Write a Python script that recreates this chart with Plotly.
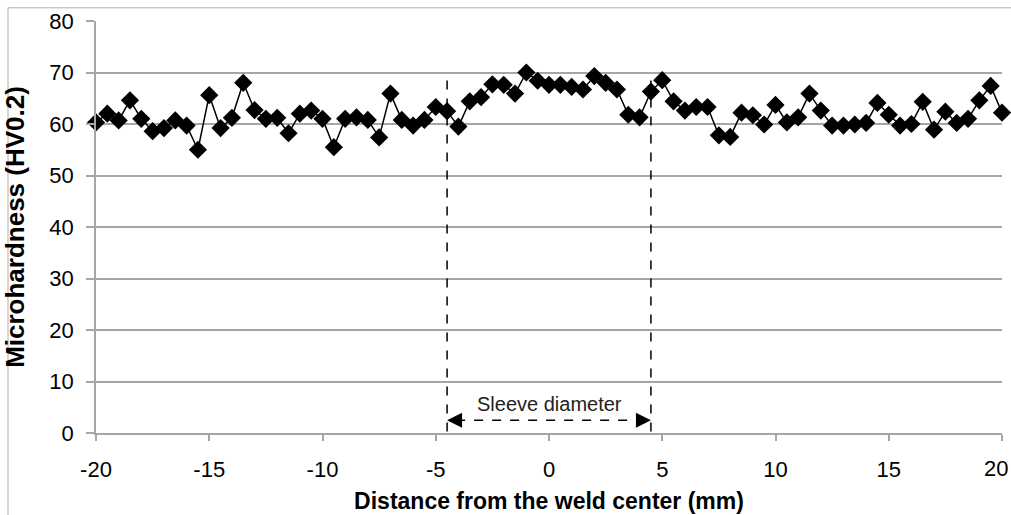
import plotly.graph_objects as go

# Distance from weld center (mm), 0.5 mm step
distance_mm = [x * 0.5 for x in range(-40, 41)]

hardness_hv = [
    60.3, 62.0, 60.7, 64.6, 61.0, 58.6, 59.2, 60.7, 59.7, 55.0,
    65.6, 59.2, 61.2, 68.0, 62.7, 61.0, 61.2, 58.2, 62.0, 62.6,
    61.0, 55.5, 61.0, 61.3, 60.8, 57.4, 65.9, 60.8, 59.7, 60.8,
    63.3, 62.5, 59.5, 64.4, 65.2, 67.7, 67.6, 65.9, 70.0, 68.4,
    67.6, 67.6, 67.2, 66.7, 69.3, 68.0, 66.7, 61.8, 61.3, 66.3,
    68.5, 64.4, 62.6, 63.3, 63.3, 57.8, 57.5, 62.2, 61.7, 59.9,
    63.7, 60.3, 61.3, 65.9, 62.6, 59.7, 59.7, 59.9, 60.2, 64.1,
    61.8, 59.7, 60.0, 64.3, 58.9, 62.4, 60.2, 61.0, 64.6, 67.4,
    62.2,
]

x_ticks = [-20, -15, -10, -5, 0, 5, 10, 15, 20]
y_ticks = [0, 10, 20, 30, 40, 50, 60, 70, 80]

sleeve_left = -4.5
sleeve_right = 4.5
sleeve_label = "Sleeve diameter"

FONT = "Liberation Sans, Arial, sans-serif"
GRID = "#a6a6a6"

fig = go.Figure()
fig.add_trace(go.Scatter(
    x=distance_mm, y=hardness_hv, mode="lines+markers",
    line=dict(color="black", width=1.5),
    marker=dict(symbol="diamond", size=14, color="black"),
    showlegend=False, cliponaxis=False,
))

# dashed sleeve boundaries
for xv in (sleeve_left, sleeve_right):
    fig.add_shape(type="line", x0=xv, x1=xv, y0=0.3, y1=70,
                  xref="x", yref="y", line=dict(color="black", width=1.5, dash="dash"))

# dashed double arrow
fig.add_shape(type="line", x0=sleeve_left + 0.4, x1=sleeve_right - 0.4, y0=2.5, y1=2.5,
              xref="x", yref="y", line=dict(color="black", width=1.5, dash="dash"))
for xv, ax in ((sleeve_left, 16), (sleeve_right, -16)):
    fig.add_annotation(x=xv, y=2.5, xref="x", yref="y", ax=ax, ay=0,
                       text="", showarrow=True, arrowhead=2, arrowsize=1.5,
                       arrowwidth=2, arrowcolor="black")
fig.add_annotation(x=0, y=5.6, xref="x", yref="y", text=sleeve_label, showarrow=False,
                   font=dict(family=FONT, size=20, color="#222222"))

# last x tick label (drawn explicitly so it is not dropped at the edge)
last_tick = x_ticks[-1]
fig.add_annotation(x=last_tick, y=0, xref="x", yref="paper", yanchor="top",
                   xanchor="right", xshift=8, yshift=-21,
                   text=str(last_tick), showarrow=False,
                   font=dict(family=FONT, size=22, color="black"))

# outer border of chart picture
fig.add_shape(type="rect", xref="paper", yref="paper",
              x0=(8 - 96) / 906, x1=(1030 - 96) / 906,
              y0=(432.7 - 530) / 412, y1=(432.7 - 7.5) / 412,
              line=dict(color="#b0b0b0", width=1), layer="below")

fig.update_layout(
    width=1011, height=515,
    margin=dict(l=96, r=9, t=21, b=82),
    plot_bgcolor="white", paper_bgcolor="white",
    font=dict(family=FONT, color="black"),
    xaxis=dict(
        range=[-20, 20], tickvals=x_ticks, ticktext=[str(v) for v in x_ticks],
        showgrid=False, zeroline=False, showline=True, linecolor=GRID, linewidth=1.5,
        ticks="outside", ticklen=6, tickcolor=GRID, tickwidth=1.5,
        ticklabelstandoff=10, automargin=False,
        tickfont=dict(size=22, family=FONT, color="black"),
        title=dict(text="<b>Distance from the weld center (mm)</b>",
                   font=dict(size=23, family=FONT, color="black"), standoff=12),
    ),
    yaxis=dict(
        range=[0, 80], tickvals=y_ticks, ticktext=[str(v) for v in y_ticks],
        showgrid=True, gridcolor=GRID, gridwidth=1.5, zeroline=False,
        showline=True, linecolor=GRID, linewidth=1.5,
        ticks="outside", ticklen=8, tickcolor=GRID, tickwidth=1.5,
        ticklabelstandoff=8, automargin=False,
        tickfont=dict(size=22, family=FONT, color="black"),
        title=dict(text="<b>Microhardness (HV0.2)</b>",
                   font=dict(size=26, family=FONT, color="black"), standoff=18),
    ),
)

fig.write_html("out.html")
